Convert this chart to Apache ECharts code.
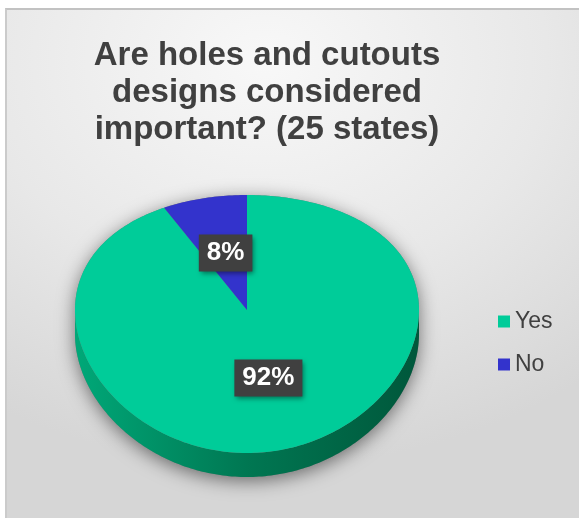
<!DOCTYPE html>
<html>
<head>
<meta charset="utf-8">
<script src="https://cdn.jsdelivr.net/npm/echarts@6/dist/echarts.min.js"></script>
<style>
  html, body { margin: 0; padding: 0; background: #ffffff; }
  #frame {
    position: absolute; left: 5px; top: 8px; width: 574px; height: 510px;
    box-sizing: border-box;
    border-top: 2px solid #c2c2c2; border-left: 2px solid #cbcbcb;
    background: radial-gradient(ellipse 90% 80% at 45% 10%, #f8f8f8 0%, #e8e8e8 55%, #d6d6d6 100%);
  }
  #chart { position: absolute; left: 0; top: 0; width: 579px; height: 518px; }
</style>
</head>
<body>
<div id="frame"></div>
<div id="chart"></div>
<script>
// ---- data ----
const categories = ['Yes', 'No'];
const values = [92, 8];
const titleText = 'Are holes and cutouts\ndesigns considered\nimportant? (25 states)';

// ---- style / layout ----
const topColors = ['#00CC99', '#3333CC'];
const sideColors = [
  ['#00a878', '#007752', '#00573b'],
  ['#2a2aa8', '#222290', '#1a1a70']
];
const FONT = '"Liberation Sans", Arial, Helvetica, sans-serif';

const chart = echarts.init(document.getElementById('chart'), null, { renderer: 'canvas' });

const total = values.reduce((a, b) => a + b, 0);
const geo = { cx: 247, cy: 310, rx: 172, ryA: 129, ryB: 14, depth: 24 };

function pt(theta, r, dy) {
  const u = -Math.cos(theta);
  return [geo.cx + r * geo.rx * Math.sin(theta), geo.cy + r * (geo.ryA * u + geo.ryB * u * u) + (dy || 0)];
}
function arcPts(a0, a1, r, dy) {
  const pts = [];
  const n = Math.max(2, Math.ceil((a1 - a0) / (Math.PI / 180)));
  for (let k = 0; k <= n; k++) pts.push(pt(a0 + (a1 - a0) * k / n, r, dy));
  return pts;
}

function makeRender(i) {
  return function (params, api) {
    let acc = 0;
    for (let j = 0; j < i; j++) acc += values[j];
    const a0 = acc / total * Math.PI * 2;
    const a1 = (acc + values[i]) / total * Math.PI * 2;
    const children = [];

    if (i === 0) {
      const base = arcPts(-Math.PI / 2, Math.PI / 2, 1, 0)
        .concat(arcPts(Math.PI / 2, 3 * Math.PI / 2, 1, geo.depth));
      children.push({
        type: 'polygon', z2: 0,
        shape: { points: base },
        style: { fill: '#7a7a7a', shadowBlur: 18, shadowColor: 'rgba(0,0,0,0.5)', shadowOffsetX: 0, shadowOffsetY: 4 }
      });
    }

    const s0 = Math.max(a0, Math.PI / 2), s1 = Math.min(a1, 3 * Math.PI / 2);
    if (s1 > s0) {
      const topEdge = arcPts(s0, s1, 1, 0);
      const botEdge = arcPts(s0, s1, 1, geo.depth).reverse();
      children.push({
        type: 'polygon', z2: 2,
        shape: { points: topEdge.concat(botEdge) },
        style: {
          fill: new echarts.graphic.LinearGradient(0, 0, 1, 0, [
            { offset: 0, color: sideColors[i][0] },
            { offset: 0.5, color: sideColors[i][1] },
            { offset: 1, color: sideColors[i][2] }
          ])
        }
      });
    }

    const face = [[geo.cx, geo.cy]].concat(arcPts(a0, a1, 1, 0));
    children.push({
      type: 'polygon', z2: 5,
      shape: { points: face },
      style: { fill: topColors[i] }
    });

    const mid = (a0 + a1) / 2;
    const lp = pt(mid, 0.5, 0);
    const pct = Math.round(values[i] / total * 100) + '%';
    children.push({
      type: 'text', z2: 20,
      x: lp[0], y: lp[1] - 1,
      style: {
        text: pct,
        fill: '#ffffff',
        font: 'bold 26px ' + FONT,
        align: 'center', verticalAlign: 'middle',
        backgroundColor: '#404040',
        padding: [6, 8, 5, 8],
        shadowBlur: 5, shadowColor: 'rgba(0,0,0,0.45)', shadowOffsetX: 2, shadowOffsetY: 2
      }
    });

    return { type: 'group', children: children };
  };
}

const series = categories.map((name, i) => ({
  type: 'custom',
  name: name,
  coordinateSystem: 'none',
  itemStyle: { color: topColors[i] },
  data: [{ value: values[i], name: name }],
  renderItem: makeRender(i),
  silent: true
}));

chart.setOption({
  animation: false,
  backgroundColor: 'transparent',
  title: {
    text: titleText,
    left: 262,
    top: 32,
    textAlign: 'center',
    textStyle: {
      fontFamily: FONT, fontWeight: 'bold', fontSize: 33,
      color: '#404040', lineHeight: 37
    }
  },
  legend: {
    orient: 'vertical',
    left: 493,
    top: 305,
    itemWidth: 12,
    itemHeight: 12,
    itemGap: 20,
    icon: 'rect',
    selectedMode: false,
    data: categories,
    textStyle: { fontFamily: FONT, fontSize: 23, color: '#404040' }
  },
  series: series
});
</script>
</body>
</html>
